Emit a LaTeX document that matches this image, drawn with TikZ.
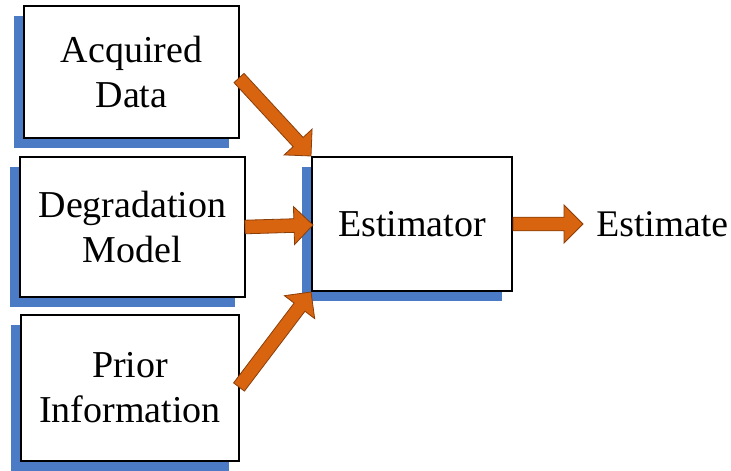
\documentclass[tikz,border=0pt]{standalone}
\usepackage{fontspec}
\setmainfont{Liberation Serif}
\usetikzlibrary{calc,shadows}

\definecolor{shadowblue}{HTML}{4A7BC4}
\definecolor{arroworange}{HTML}{D9640F}
\definecolor{arrowedge}{HTML}{8A3E08}

\tikzset{
  block/.style={draw=black, line width=1pt, fill=white, align=center,
    font=\fontsize{19}{22.5}\selectfont,
    general shadow={fill=shadowblue, shadow xshift=-5pt, shadow yshift=-5pt}},
  fat arrow/.style={fill=arroworange, draw=arrowedge, line width=0.4pt, line join=miter}
}

% block arrow from #1 to tip #2
\newcommand{\fatarrow}[2]{%
  \coordinate (hb) at ($(#2)!9.5pt!(#1)$);
  \draw[fat arrow] ($(#1)!3.4pt!90:(#2)$) -- ($(hb)!3.4pt!90:(#2)$)
    -- ($(hb)!9.5pt!90:(#2)$) -- (#2) -- ($(hb)!9.5pt!-90:(#2)$)
    -- ($(hb)!3.4pt!-90:(#2)$) -- ($(#1)!3.4pt!-90:(#2)$) -- cycle;
}

\begin{document}
\begin{tikzpicture}[x=0.5pt, y=-0.5pt]
  \useasboundingbox (0,0) rectangle (731,470);

  % Define nodes
  \node[block, minimum width=107.5pt, minimum height=66pt] (acq) at (131.5,72) {Acquired\\Data};
  \node[block, minimum width=112.5pt, minimum height=70pt] (deg) at (132.5,227) {Degradation\\Model};
  \node[block, minimum width=109pt, minimum height=73pt] (prior) at (130,388) {Prior\\Information};
  \node[block, minimum width=100pt, minimum height=67pt] (est) at (412,224) {Estimator};
  \node[font=\fontsize{18.8}{22.5}\selectfont, anchor=west, inner sep=0pt] (result) at (596,224) {Estimate};

  \coordinate (acqout) at (239,78);
  \coordinate (priorout) at (239,387);
  \coordinate (degout) at (245,227);
  \coordinate (estin) at (313,225);
  \coordinate (resin) at (583,224);

  % Connect the nodes
  \fatarrow{acqout}{est.north west}
  \fatarrow{degout}{estin}
  \fatarrow{priorout}{est.south west}
  \fatarrow{est.east}{resin}

\end{tikzpicture}
\end{document}
